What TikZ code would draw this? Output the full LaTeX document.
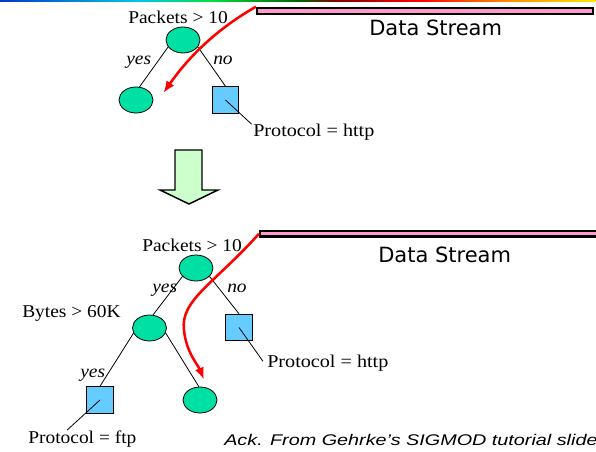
\documentclass[tikz,border=0pt]{standalone}
\usepackage{fontspec}
\usepackage{graphicx}
\setmainfont{Liberation Serif}
\newfontfamily\dsfont{DejaVu Sans}
\newfontfamily\ackfont{Liberation Sans}
\usetikzlibrary{shapes.geometric,arrows.meta,calc}

\definecolor{testgreen}{RGB}{0,224,164}
\definecolor{leafblue}{RGB}{102,204,255}
\definecolor{streampink}{RGB}{255,153,204}
\definecolor{arrowmint}{RGB}{204,255,204}
\definecolor{gA}{RGB}{0,56,200}
\definecolor{gB}{RGB}{0,200,232}
\definecolor{gC}{RGB}{0,224,64}
\definecolor{gD}{RGB}{0,96,0}
\definecolor{gE}{RGB}{128,0,0}
\definecolor{gF}{RGB}{255,0,0}
\definecolor{gG}{RGB}{255,144,0}
\definecolor{gH}{RGB}{255,232,0}

\newcommand{\wide}[2]{\scalebox{#1}[1]{#2}}

\tikzset{
  testnode/.style={ellipse, draw=black, line width=0.6pt, fill=testgreen,
    minimum width=25.5pt, minimum height=19.5pt, inner sep=0pt},
  leafnode/.style={rectangle, draw=black, line width=0.6pt, fill=leafblue,
    minimum size=20pt, inner sep=0pt},
  txt/.style={inner sep=0pt, anchor=base west, font=\fontsize{13.5}{16}\selectfont},
  branch/.style={draw=black, line width=0.6pt},
  streambar/.style={rectangle, draw=black, line width=1.6pt, fill=streampink,
    inner sep=0pt},
  streamtxt/.style={inner sep=0pt, anchor=base west, font=\dsfont\fontsize{15.75}{18}\selectfont},
  flow/.style={draw=red, line width=1.9pt, -{Latex[length=9pt,width=7pt]}},
}

\begin{document}
\begin{tikzpicture}[x=0.75pt, y=-0.75pt]
\useasboundingbox (0,0) rectangle (596,452);

% rainbow strip along the top edge
\shade[left color=gA, right color=gB] (0,0) rectangle (140,1.6);
\shade[left color=gB, right color=gC] (140,0) rectangle (210,1.6);
\shade[left color=gC, right color=gD] (210,0) rectangle (300,1.6);
\shade[left color=gD, right color=gE] (300,0) rectangle (335,1.6);
\shade[left color=gE, right color=gF] (335,0) rectangle (420,1.6);
\shade[left color=gF, right color=gG] (420,0) rectangle (510,1.6);
\shade[left color=gG, right color=gH] (510,0) rectangle (596,1.6);

% ---------- first tree ----------
\node[streambar, minimum width=252pt, minimum height=4.8pt] (bar1) at (425,11) {};
\node[streamtxt] (ds1) at (369,36) {Data Stream};

\node[testnode] (root1) at (183,40) {};
\node[testnode] (leaf1) at (136,100) {};
\node[leafnode] (http1box) at (225.5,100) {};

\node[txt] (pk1) at (128,23.5) {\wide{1.08}{Packets > 10}};
\node[txt] (yes1) at (126,65) {\wide{1.08}{\itshape yes}};
\node[txt] (no1) at (213,65) {\wide{1.08}{\itshape no}};
\node[txt] (http1) at (253,137) {\wide{1.12}{Protocol = http}};

\draw[branch] (root1.205) -- (leaf1.75);
\draw[branch] (root1.-25) -- (http1box.north);
\draw[branch] (http1box.center) -- ([xshift=-1pt]http1.north west);

\draw[flow] (bar1.north west) .. controls (222,26) and (192,52) .. ([shift={(10,-7)}]leaf1.east);

% ---------- transition arrow ----------
\draw[black, line width=1.1pt, fill=arrowmint]
  (175,150) -- (202,150) -- (202,190) -- (218,190) -- (189,204) -- (160,190) -- (175,190) -- cycle;

% ---------- second tree ----------
\node[streambar, minimum width=255pt, minimum height=4pt] (bar2) at (430,233.8) {};
\node[streamtxt] (ds2) at (378,263) {Data Stream};

\node[testnode] (root2) at (196,268) {};
\node[testnode] (bytes) at (149.5,328) {};
\node[leafnode] (http2box) at (239,327.5) {};
\node[leafnode] (ftpbox) at (100,400) {};
\node[testnode] (leaf2) at (200,400) {};

\node[txt] (pk2) at (142,251.5) {\wide{1.08}{Packets > 10}};
\node[txt] (yes2) at (152,292) {\wide{1.08}{\itshape yes}};
\node[txt] (no2) at (227,292) {\wide{1.08}{\itshape no}};
\node[txt] (by) at (22,317) {\wide{1.08}{Bytes > 60K}};
\node[txt] (yes3) at (80,377) {\wide{1.08}{\itshape yes}};
\node[txt] (http2) at (267,367) {\wide{1.12}{Protocol = http}};
\node[txt] (ftp) at (28,443) {\wide{1.08}{Protocol = ftp}};

\draw[branch] (root2.212) -- (bytes.75);
\draw[branch] (root2.-32) -- (http2box.north);
\draw[branch] (bytes.198) -- (ftpbox.north);
\draw[branch] (bytes.-17) -- (leaf2.95);
\draw[branch] (http2box.center) -- ([xshift=-3pt,yshift=1pt]http2.west);
\draw[branch] (ftpbox.center) -- ($(ftp.north west)!0.36!(ftp.north east)$);

\draw[flow] (bar2.west) .. controls (215,283) and (180,300) .. (184,330)
  .. controls (186,352) and (198,365) .. ([shift={(4,-7)}]leaf2.north);

\node[inner sep=0pt, anchor=base west, font=\ackfont\itshape\fontsize{11.6}{14}\selectfont]
  (ack) at (224,445.7) {\wide{1.28}{Ack. From Gehrke’s SIGMOD tutorial slide}};
\end{tikzpicture}
\end{document}
